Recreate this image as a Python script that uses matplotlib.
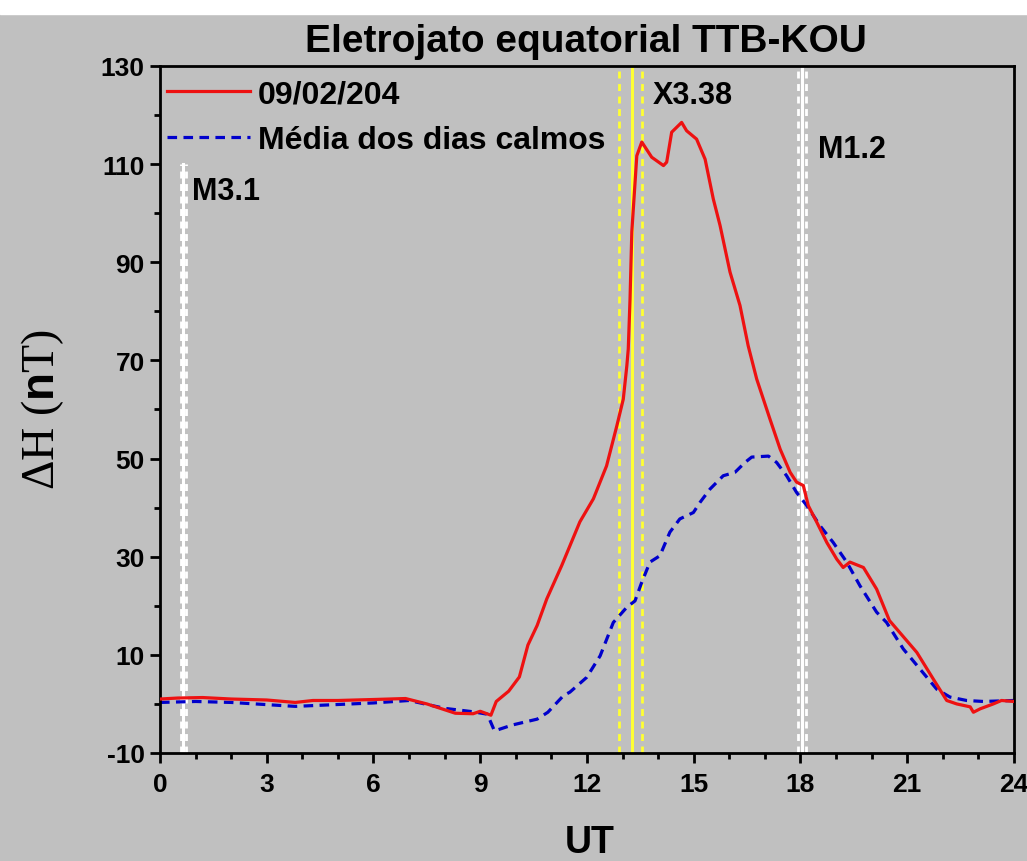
import numpy as np
import matplotlib.pyplot as plt
from matplotlib.ticker import MultipleLocator, FixedLocator

# Storm day (09/02/204) - delta H, TTB-KOU
ut_storm = [0.0, 0.5, 1.2, 2.0, 3.0, 3.8, 4.3, 5.0, 6.0, 6.9, 7.5, 8.3, 8.8, 9.0, 9.3,
            9.45, 9.8, 10.1, 10.34, 10.6, 10.87, 11.29, 11.8, 12.18, 12.55, 12.84, 13.02,
            13.12, 13.16, 13.21, 13.26, 13.4, 13.54, 13.82, 14.15, 14.24, 14.38, 14.66,
            14.8, 15.08, 15.32, 15.55, 15.74, 16.02, 16.3, 16.53, 16.77, 17.14, 17.43,
            17.71, 17.89, 18.08, 18.22, 18.46, 18.74, 19.02, 19.2, 19.39, 19.77, 20.14,
            20.5, 21.27, 21.73, 22.11, 22.39, 22.77, 22.86, 23.05, 23.42, 23.65, 24.0]
dh_storm = [1.0, 1.2, 1.3, 1.0, 0.8, 0.3, 0.7, 0.7, 0.9, 1.1, 0.0, -1.9, -2.0, -1.5, -2.3,
            0.5, 2.6, 5.5, 12.0, 16.0, 21.4, 28.2, 37.1, 41.8, 48.5, 56.7, 62.1,
            68.9, 72.3, 82.5, 96.2, 111.7, 114.5, 111.4, 109.7, 110.4, 116.5, 118.5,
            116.8, 115.1, 111.0, 102.9, 97.5, 88.0, 81.2, 73.0, 66.2, 58.1, 51.9,
            47.2, 45.2, 44.5, 40.4, 37.0, 32.9, 29.5, 27.8, 28.9, 27.8, 23.4,
            17.0, 10.5, 5.1, 0.7, 0.0, -0.6, -1.7, -1.0, 0.0, 0.7, 0.5]

# Mean of quiet days
ut_quiet = [0.0, 1.0, 2.0, 3.8, 6.0, 7.0, 8.0, 8.8, 9.2, 9.4, 9.9, 10.6, 10.9, 11.34,
            11.52, 11.99, 12.37, 12.74, 13.12, 13.35, 13.54, 13.77, 14.05, 14.33, 14.61,
            14.99, 15.18, 15.46, 15.83, 16.16, 16.44, 16.63, 17.1, 17.33, 17.61, 17.89,
            18.18, 18.55, 18.92, 19.3, 19.67, 20.14, 20.42, 20.89, 21.36, 21.83, 22.2,
            22.67, 23.14, 24.0]
dh_quiet = [0.3, 0.5, 0.3, -0.5, 0.2, 0.7, -0.9, -1.6, -2.1, -5.5, -4.3, -3.1, -1.7, 1.7,
            2.4, 5.4, 9.8, 16.6, 19.7, 21.0, 24.8, 28.9, 30.2, 35.0, 37.7,
            39.0, 41.1, 43.8, 46.5, 47.2, 49.2, 50.3, 50.5, 49.2, 46.5, 43.1,
            40.4, 36.3, 32.9, 28.9, 24.1, 18.7, 16.6, 11.2, 7.1, 3.0, 1.4,
            0.7, 0.5, 0.7]

# Solar flares: (label, centre, side lines, line colour, label x, label y, top of lines)
flares = [
    ('M3.1', 0.66, (0.6, 0.72), 'white', 0.9, 104.5, 110),
    ('X3.38', 13.26, (12.91, 13.54), '#ffff33', 13.85, 124.0, 130),
    ('M1.2', 18.05, (17.94, 18.16), 'white', 18.5, 113.0, 130),
]

plt.rcParams['font.family'] = ['Liberation Sans', 'DejaVu Sans']
plt.rcParams['font.weight'] = 'bold'
plt.rcParams['axes.unicode_minus'] = False
plt.rcParams['mathtext.fontset'] = 'custom'
plt.rcParams['mathtext.bf'] = 'Liberation Sans:bold'
plt.rcParams['mathtext.rm'] = 'Liberation Serif'

bg = '#c0c0c0'
fig = plt.figure(figsize=(10.27, 8.62), dpi=100, facecolor=bg)
fig.patches.append(plt.Rectangle((0, 0.983), 1, 0.017, transform=fig.transFigure,
                                 color='white', zorder=0))
ax = fig.add_axes([0.1558, 0.1253, 0.8315, 0.797])
ax.set_facecolor(bg)

# flare markers
for name, xc, sides, col, tx, ty, top in flares:
    ax.plot([xc, xc], [-10, top], color=col, lw=2.2, zorder=1)
    for xs in sides:
        ax.plot([xs, xs], [-10, top], color=col, lw=2.0, ls=(0, (2.5, 2)), zorder=1)
    ax.text(tx, ty, name, fontsize=22, fontweight='bold', ha='left', va='center')

ax.plot(ut_storm, dh_storm, color='#ee1111', lw=2.3, label='09/02/204', zorder=3)
ax.plot(ut_quiet, dh_quiet, color='#0000cc', lw=2.3, ls=(0, (3, 2)),
        label='Média dos dias calmos', zorder=2)

ax.set_xlim(0, 24)
ax.set_ylim(-10, 130)
ax.xaxis.set_major_locator(MultipleLocator(3))
ax.xaxis.set_minor_locator(MultipleLocator(1))
ax.yaxis.set_major_locator(FixedLocator(np.arange(-10, 131, 20)))
ax.yaxis.set_minor_locator(FixedLocator(np.arange(0, 121, 20)))
ax.tick_params(which='major', length=7, width=2, labelsize=19)
ax.tick_params(axis='x', which='major', pad=7)
ax.tick_params(axis='y', which='major', pad=4)
ax.tick_params(which='minor', length=4, width=2)
for lbl in ax.get_xticklabels() + ax.get_yticklabels():
    lbl.set_fontweight('bold')
for sp in ax.spines.values():
    sp.set_linewidth(2)

leg = ax.legend(loc='upper left', frameon=False, fontsize=23, handlelength=2.6,
                handletextpad=0.25, borderaxespad=0.0, borderpad=0.42, labelspacing=0.5,
                bbox_to_anchor=(-0.008, 1.0))
for t in leg.get_texts():
    t.set_fontweight('bold')

fig.text(0.571, 0.951, 'Eletrojato equatorial TTB-KOU', fontsize=28, fontweight='bold',
         ha='center', va='center')
fig.text(0.574, 0.022, 'UT', fontsize=27, fontweight='bold', ha='center', va='center')
fig.text(0.041, 0.525, r'ΔH ($\mathbf{n}$T)', fontsize=33, rotation=90,
         ha='center', va='center', family='Liberation Serif', fontweight='normal')

fig.savefig('out.png', dpi=100, facecolor=bg)
